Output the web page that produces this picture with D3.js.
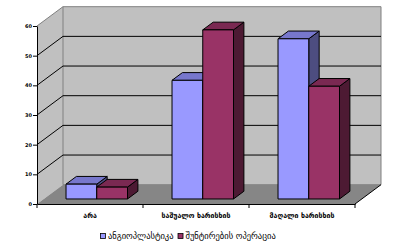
<!DOCTYPE html>
<html>
<head>
<meta charset="utf-8">
<script src="https://cdn.jsdelivr.net/npm/d3@7"></script>
<style>
  body { margin: 0; background: #fff; }
  text { font-family: "DejaVu Sans", sans-serif; }
</style>
</head>
<body>
<div id="chart"></div>
<script>
(function(){

    var categories = ["არა", "საშუალო ხარისხის", "მაღალი ხარისხის"];
    var series = ["ანგიოპლასტიკა", "შუნტირების ოპერაცია"];
    var angioplasty = [5, 40, 54];
    var bypass = [4, 57, 38];
    var yTicks = [0, 10, 20, 30, 40, 50, 60];

    var values = [angioplasty, bypass];
    var colors = [
        {front: "#9999ff", top: "#7777cc", side: "#4d4d80"},
        {front: "#993366", top: "#7a2952", side: "#4d1a33"}
    ];

    var W = 408, H = 251;
    var DX = 26, DY = -19.3;       // depth of the box
    var f0 = 0.26, f1 = 0.66;      // bar front / back depth

    var svg = d3.select("#chart")
                .append("svg")
                .attr("width", W)
                .attr("height", H);

    var y = d3.scaleLinear().domain([0, 60]).range([204, 26]);
    var x = d3.scaleBand().domain(categories).range([37, 355]);
    var bw = x.bandwidth();
    var s = d3.scaleBand().domain(series).range([0.21 * bw, 0.79 * bw]);

    var x0 = x.range()[0], x1 = x.range()[1];

    function P(px, v, f){
        return [px + f * DX, y(v) + f * DY];
    }
    function poly(pts){
        return pts.map(function(p){ return p.join(","); }).join(" ");
    }

    // left wall
    svg.append("polygon")
       .attr("points", poly([P(x0,0,0), P(x0,60,0), P(x0,60,1), P(x0,0,1)]))
       .attr("fill", "#c0c0c0");

    // back wall
    svg.append("polygon")
       .attr("points", poly([P(x0,0,1), P(x0,60,1), P(x1,60,1), P(x1,0,1)]))
       .attr("fill", "#c0c0c0")
       .attr("stroke", "#808080")
       .attr("stroke-width", 1);

    svg.append("line")
       .attr("x1", P(x0,60,0)[0]).attr("y1", P(x0,60,0)[1])
       .attr("x2", P(x0,60,1)[0]).attr("y2", P(x0,60,1)[1])
       .attr("stroke", "#808080");

    // floor
    svg.append("polygon")
       .attr("points", poly([P(x0,0,0), P(x1,0,0), P(x1,0,1), P(x0,0,1)]))
       .attr("fill", "#868686");

    svg.append("line")
       .attr("x1", P(x1,0,0)[0]).attr("y1", P(x1,0,0)[1])
       .attr("x2", P(x1,0,1)[0]).attr("y2", P(x1,0,1)[1])
       .attr("stroke", "#000");

    // gridlines
    for (var t of yTicks){
        if (t === 0 || t === 60) continue;
        var a = P(x0,t,0), b = P(x0,t,1), c = P(x1,t,1);
        svg.append("polyline")
           .attr("points", poly([a, b, c]))
           .attr("fill", "none")
           .attr("stroke", "#000")
           .attr("stroke-width", 1);
    }

    // bars
    categories.forEach(function(cat, i){
        series.forEach(function(ser, j){
            var v = values[j][i];
            var xl = x(cat) + s(ser);
            var xr = xl + s.bandwidth();
            var c = colors[j];
            var g = svg.append("g")
                       .attr("stroke", "#000")
                       .attr("stroke-width", 1)
                       .attr("stroke-linejoin", "round");
            g.append("polygon")
             .attr("points", poly([P(xr,v,f0), P(xr,v,f1), P(xr,0,f1), P(xr,0,f0)]))
             .attr("fill", c.side);
            g.append("polygon")
             .attr("points", poly([P(xl,v,f0), P(xl,v,f1), P(xr,v,f1), P(xr,v,f0)]))
             .attr("fill", c.top);
            g.append("polygon")
             .attr("points", poly([P(xl,v,f0), P(xr,v,f0), P(xr,0,f0), P(xl,0,f0)]))
             .attr("fill", c.front);
        });
    });

    // axes
    var yAxis = d3.axisLeft(y)
                  .tickValues(yTicks)
                  .tickSize(4)
                  .tickSizeOuter(0);
    var gy = svg.append("g")
                .attr("transform", "translate(" + x0 + ",0)")
                .call(yAxis);
    gy.select(".domain").attr("stroke", "#000");
    gy.selectAll("text")
      .attr("font-size", 5)
      .attr("font-weight", "bold")
      .attr("font-family", "DejaVu Sans")
      .attr("x", -5);

    var xAxis = d3.axisBottom(x)
                  .tickSize(0)
                  .tickSizeOuter(0);
    var gx = svg.append("g")
                .attr("transform", "translate(0," + y(0) + ")")
                .call(xAxis);
    gx.select(".domain").attr("stroke", "#000");
    gx.selectAll("text")
      .attr("font-size", 7)
      .attr("font-weight", "bold")
      .attr("font-family", "DejaVu Sans")
      .attr("dy", 0)
      .attr("y", 14);

    // category separators
    var seps = categories.map(function(c){ return x(c); }).concat([x1]);
    gx.selectAll(".sep")
      .data(seps)
      .enter().append("line")
      .attr("x1", function(d){ return d; })
      .attr("x2", function(d){ return d; })
      .attr("y1", 0)
      .attr("y2", 4)
      .attr("stroke", "#000");

    // legend
    var lg = svg.append("g").attr("transform", "translate(100,238)");
    var lx = 0;
    series.forEach(function(ser, j){
        lg.append("rect")
          .attr("x", lx + 0.5).attr("y", -4.5)
          .attr("width", 5).attr("height", 5)
          .attr("fill", colors[j].front)
          .attr("stroke", "#000")
          .attr("stroke-width", 0.8);
        var tx = lg.append("text")
                   .attr("x", lx + 8)
                   .attr("y", 1)
                   .attr("font-size", 8.5)
                   .text(ser);
        lx += 8 + tx.node().getComputedTextLength() + 4;
    });

})();
</script>
</body>
</html>
